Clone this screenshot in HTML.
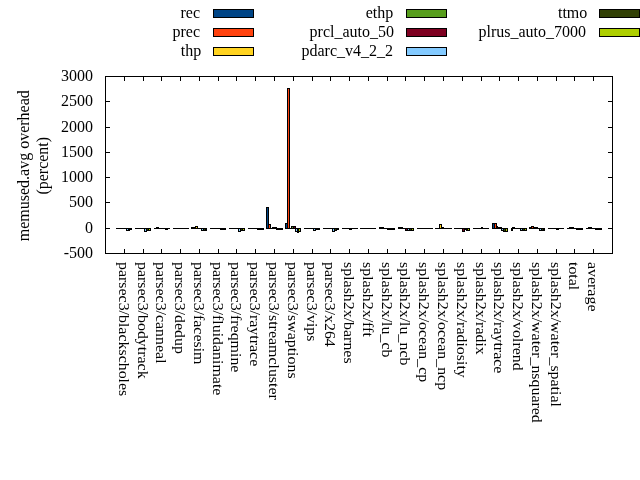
<!DOCTYPE html>
<html><head><meta charset="utf-8"><title>memused.avg overhead</title>
<style>html,body{margin:0;padding:0;background:#fff;overflow:hidden}svg{display:block}</style></head>
<body>
<svg width="640" height="480" viewBox="0 0 640 480" style="display:block">
<rect width="640" height="480" fill="#fff"/>
<g shape-rendering="crispEdges">
<rect x="116" y="228" width="3" height="1" fill="#000"/>
<rect x="118" y="228" width="3" height="1" fill="#000"/>
<rect x="120" y="228" width="3" height="1" fill="#000"/>
<rect x="122" y="228" width="3" height="1" fill="#000"/>
<rect x="124" y="228" width="3" height="1" fill="#000"/>
<rect x="126" y="228" width="3" height="3" fill="#000"/>
<rect x="127" y="229" width="1" height="1" fill="#83caff"/>
<rect x="128" y="228" width="2" height="3" fill="#000"/>
<rect x="129" y="228" width="3" height="2" fill="#000"/>
<rect x="135" y="228" width="3" height="1" fill="#000"/>
<rect x="137" y="228" width="3" height="1" fill="#000"/>
<rect x="139" y="228" width="3" height="1" fill="#000"/>
<rect x="141" y="228" width="3" height="1" fill="#000"/>
<rect x="143" y="228" width="2" height="1" fill="#000"/>
<rect x="144" y="228" width="3" height="4" fill="#000"/>
<rect x="145" y="229" width="1" height="2" fill="#83caff"/>
<rect x="146" y="228" width="3" height="3" fill="#000"/>
<rect x="147" y="229" width="1" height="1" fill="#314004"/>
<rect x="148" y="228" width="3" height="3" fill="#000"/>
<rect x="149" y="229" width="1" height="1" fill="#aecf00"/>
<rect x="154" y="228" width="3" height="1" fill="#000"/>
<rect x="156" y="227" width="3" height="2" fill="#000"/>
<rect x="158" y="228" width="2" height="1" fill="#000"/>
<rect x="159" y="228" width="3" height="1" fill="#000"/>
<rect x="161" y="228" width="3" height="1" fill="#000"/>
<rect x="163" y="228" width="3" height="1" fill="#000"/>
<rect x="165" y="228" width="3" height="2" fill="#000"/>
<rect x="167" y="228" width="3" height="1" fill="#000"/>
<rect x="173" y="228" width="2" height="1" fill="#000"/>
<rect x="174" y="228" width="3" height="1" fill="#000"/>
<rect x="176" y="228" width="3" height="1" fill="#000"/>
<rect x="178" y="228" width="3" height="1" fill="#000"/>
<rect x="180" y="228" width="3" height="1" fill="#000"/>
<rect x="182" y="228" width="3" height="1" fill="#000"/>
<rect x="184" y="228" width="3" height="1" fill="#000"/>
<rect x="186" y="228" width="3" height="1" fill="#000"/>
<rect x="191" y="227" width="3" height="2" fill="#000"/>
<rect x="193" y="227" width="3" height="2" fill="#000"/>
<rect x="195" y="226" width="3" height="3" fill="#000"/>
<rect x="196" y="227" width="1" height="1" fill="#ffd320"/>
<rect x="197" y="228" width="3" height="1" fill="#000"/>
<rect x="199" y="228" width="3" height="1" fill="#000"/>
<rect x="201" y="228" width="3" height="3" fill="#000"/>
<rect x="202" y="229" width="1" height="1" fill="#83caff"/>
<rect x="203" y="228" width="3" height="3" fill="#000"/>
<rect x="204" y="229" width="1" height="1" fill="#314004"/>
<rect x="205" y="228" width="2" height="3" fill="#000"/>
<rect x="210" y="228" width="3" height="1" fill="#000"/>
<rect x="212" y="228" width="3" height="1" fill="#000"/>
<rect x="214" y="228" width="3" height="1" fill="#000"/>
<rect x="216" y="228" width="3" height="1" fill="#000"/>
<rect x="218" y="228" width="3" height="1" fill="#000"/>
<rect x="220" y="228" width="2" height="2" fill="#000"/>
<rect x="221" y="228" width="3" height="2" fill="#000"/>
<rect x="223" y="228" width="3" height="2" fill="#000"/>
<rect x="229" y="228" width="3" height="1" fill="#000"/>
<rect x="231" y="228" width="3" height="1" fill="#000"/>
<rect x="233" y="228" width="3" height="1" fill="#000"/>
<rect x="235" y="228" width="2" height="1" fill="#000"/>
<rect x="236" y="228" width="3" height="1" fill="#000"/>
<rect x="238" y="228" width="3" height="4" fill="#000"/>
<rect x="239" y="229" width="1" height="2" fill="#83caff"/>
<rect x="240" y="228" width="3" height="3" fill="#000"/>
<rect x="241" y="229" width="1" height="1" fill="#314004"/>
<rect x="242" y="228" width="3" height="3" fill="#000"/>
<rect x="243" y="229" width="1" height="1" fill="#aecf00"/>
<rect x="248" y="228" width="3" height="1" fill="#000"/>
<rect x="250" y="228" width="2" height="1" fill="#000"/>
<rect x="251" y="228" width="3" height="1" fill="#000"/>
<rect x="253" y="228" width="3" height="1" fill="#000"/>
<rect x="255" y="228" width="3" height="1" fill="#000"/>
<rect x="257" y="228" width="3" height="2" fill="#000"/>
<rect x="259" y="228" width="3" height="2" fill="#000"/>
<rect x="261" y="228" width="3" height="2" fill="#000"/>
<rect x="266" y="207" width="3" height="22" fill="#000"/>
<rect x="267" y="208" width="1" height="20" fill="#004586"/>
<rect x="268" y="224" width="3" height="5" fill="#000"/>
<rect x="269" y="225" width="1" height="3" fill="#ff420e"/>
<rect x="270" y="228" width="3" height="1" fill="#000"/>
<rect x="272" y="227" width="3" height="2" fill="#000"/>
<rect x="274" y="227" width="3" height="2" fill="#000"/>
<rect x="276" y="228" width="3" height="2" fill="#000"/>
<rect x="278" y="228" width="3" height="2" fill="#000"/>
<rect x="280" y="228" width="3" height="2" fill="#000"/>
<rect x="285" y="223" width="3" height="6" fill="#000"/>
<rect x="286" y="224" width="1" height="4" fill="#004586"/>
<rect x="287" y="88" width="3" height="141" fill="#000"/>
<rect x="288" y="89" width="1" height="139" fill="#ff420e"/>
<rect x="289" y="228" width="3" height="1" fill="#000"/>
<rect x="291" y="226" width="3" height="3" fill="#000"/>
<rect x="292" y="227" width="1" height="1" fill="#579d1c"/>
<rect x="293" y="226" width="3" height="3" fill="#000"/>
<rect x="294" y="227" width="1" height="1" fill="#7e0021"/>
<rect x="295" y="228" width="3" height="4" fill="#000"/>
<rect x="296" y="229" width="1" height="2" fill="#83caff"/>
<rect x="297" y="228" width="2" height="5" fill="#000"/>
<rect x="298" y="228" width="3" height="4" fill="#000"/>
<rect x="299" y="229" width="1" height="2" fill="#aecf00"/>
<rect x="304" y="228" width="3" height="1" fill="#000"/>
<rect x="306" y="228" width="3" height="1" fill="#000"/>
<rect x="308" y="228" width="3" height="1" fill="#000"/>
<rect x="310" y="228" width="3" height="1" fill="#000"/>
<rect x="312" y="228" width="2" height="1" fill="#000"/>
<rect x="313" y="228" width="3" height="3" fill="#000"/>
<rect x="314" y="229" width="1" height="1" fill="#83caff"/>
<rect x="315" y="228" width="3" height="2" fill="#000"/>
<rect x="317" y="228" width="3" height="2" fill="#000"/>
<rect x="323" y="228" width="3" height="1" fill="#000"/>
<rect x="325" y="228" width="3" height="1" fill="#000"/>
<rect x="327" y="228" width="2" height="1" fill="#000"/>
<rect x="328" y="228" width="3" height="1" fill="#000"/>
<rect x="330" y="228" width="3" height="1" fill="#000"/>
<rect x="332" y="228" width="3" height="4" fill="#000"/>
<rect x="333" y="229" width="1" height="2" fill="#83caff"/>
<rect x="334" y="228" width="3" height="3" fill="#000"/>
<rect x="335" y="229" width="1" height="1" fill="#314004"/>
<rect x="336" y="228" width="3" height="2" fill="#000"/>
<rect x="342" y="228" width="2" height="1" fill="#000"/>
<rect x="343" y="228" width="3" height="1" fill="#000"/>
<rect x="345" y="228" width="3" height="1" fill="#000"/>
<rect x="347" y="228" width="3" height="1" fill="#000"/>
<rect x="349" y="228" width="3" height="2" fill="#000"/>
<rect x="351" y="228" width="3" height="1" fill="#000"/>
<rect x="353" y="228" width="3" height="1" fill="#000"/>
<rect x="355" y="228" width="3" height="1" fill="#000"/>
<rect x="360" y="228" width="3" height="1" fill="#000"/>
<rect x="362" y="228" width="3" height="1" fill="#000"/>
<rect x="364" y="228" width="3" height="1" fill="#000"/>
<rect x="366" y="228" width="3" height="1" fill="#000"/>
<rect x="368" y="228" width="3" height="1" fill="#000"/>
<rect x="370" y="228" width="3" height="1" fill="#000"/>
<rect x="372" y="228" width="3" height="1" fill="#000"/>
<rect x="374" y="228" width="2" height="1" fill="#000"/>
<rect x="379" y="227" width="3" height="2" fill="#000"/>
<rect x="381" y="227" width="3" height="2" fill="#000"/>
<rect x="383" y="228" width="3" height="1" fill="#000"/>
<rect x="385" y="228" width="3" height="1" fill="#000"/>
<rect x="387" y="228" width="3" height="2" fill="#000"/>
<rect x="389" y="228" width="2" height="2" fill="#000"/>
<rect x="390" y="228" width="3" height="2" fill="#000"/>
<rect x="392" y="228" width="3" height="2" fill="#000"/>
<rect x="398" y="227" width="3" height="2" fill="#000"/>
<rect x="400" y="227" width="3" height="2" fill="#000"/>
<rect x="402" y="228" width="3" height="1" fill="#000"/>
<rect x="404" y="228" width="2" height="1" fill="#000"/>
<rect x="405" y="228" width="3" height="3" fill="#000"/>
<rect x="406" y="229" width="1" height="1" fill="#7e0021"/>
<rect x="407" y="228" width="3" height="3" fill="#000"/>
<rect x="408" y="229" width="1" height="1" fill="#83caff"/>
<rect x="409" y="228" width="3" height="3" fill="#000"/>
<rect x="410" y="229" width="1" height="1" fill="#314004"/>
<rect x="411" y="228" width="3" height="3" fill="#000"/>
<rect x="412" y="229" width="1" height="1" fill="#aecf00"/>
<rect x="417" y="228" width="3" height="1" fill="#000"/>
<rect x="419" y="228" width="2" height="1" fill="#000"/>
<rect x="420" y="228" width="3" height="1" fill="#000"/>
<rect x="422" y="228" width="3" height="1" fill="#000"/>
<rect x="424" y="228" width="3" height="1" fill="#000"/>
<rect x="426" y="228" width="3" height="1" fill="#000"/>
<rect x="428" y="228" width="3" height="1" fill="#000"/>
<rect x="430" y="228" width="3" height="1" fill="#000"/>
<rect x="435" y="228" width="3" height="1" fill="#000"/>
<rect x="437" y="228" width="3" height="1" fill="#000"/>
<rect x="439" y="224" width="3" height="5" fill="#000"/>
<rect x="440" y="225" width="1" height="3" fill="#ffd320"/>
<rect x="441" y="227" width="3" height="2" fill="#000"/>
<rect x="443" y="228" width="3" height="1" fill="#000"/>
<rect x="445" y="228" width="3" height="1" fill="#000"/>
<rect x="447" y="228" width="3" height="1" fill="#000"/>
<rect x="449" y="228" width="3" height="1" fill="#000"/>
<rect x="454" y="228" width="3" height="1" fill="#000"/>
<rect x="456" y="228" width="3" height="1" fill="#000"/>
<rect x="458" y="228" width="3" height="1" fill="#000"/>
<rect x="460" y="228" width="3" height="1" fill="#000"/>
<rect x="462" y="228" width="3" height="4" fill="#000"/>
<rect x="463" y="229" width="1" height="2" fill="#7e0021"/>
<rect x="464" y="228" width="3" height="2" fill="#000"/>
<rect x="466" y="228" width="2" height="3" fill="#000"/>
<rect x="467" y="228" width="3" height="3" fill="#000"/>
<rect x="468" y="229" width="1" height="1" fill="#aecf00"/>
<rect x="473" y="228" width="3" height="1" fill="#000"/>
<rect x="475" y="228" width="3" height="1" fill="#000"/>
<rect x="477" y="228" width="3" height="1" fill="#000"/>
<rect x="479" y="228" width="3" height="1" fill="#000"/>
<rect x="481" y="227" width="2" height="2" fill="#000"/>
<rect x="482" y="228" width="3" height="1" fill="#000"/>
<rect x="484" y="228" width="3" height="1" fill="#000"/>
<rect x="486" y="228" width="3" height="1" fill="#000"/>
<rect x="492" y="223" width="3" height="6" fill="#000"/>
<rect x="493" y="224" width="1" height="4" fill="#004586"/>
<rect x="494" y="223" width="3" height="6" fill="#000"/>
<rect x="495" y="224" width="1" height="4" fill="#ff420e"/>
<rect x="496" y="226" width="2" height="3" fill="#000"/>
<rect x="497" y="227" width="3" height="2" fill="#000"/>
<rect x="499" y="227" width="3" height="2" fill="#000"/>
<rect x="501" y="228" width="3" height="3" fill="#000"/>
<rect x="502" y="229" width="1" height="1" fill="#83caff"/>
<rect x="503" y="228" width="3" height="4" fill="#000"/>
<rect x="504" y="229" width="1" height="2" fill="#314004"/>
<rect x="505" y="228" width="3" height="4" fill="#000"/>
<rect x="506" y="229" width="1" height="2" fill="#aecf00"/>
<rect x="511" y="228" width="2" height="3" fill="#000"/>
<rect x="512" y="227" width="3" height="2" fill="#000"/>
<rect x="514" y="228" width="3" height="1" fill="#000"/>
<rect x="516" y="228" width="3" height="1" fill="#000"/>
<rect x="518" y="228" width="3" height="1" fill="#000"/>
<rect x="520" y="228" width="3" height="3" fill="#000"/>
<rect x="521" y="229" width="1" height="1" fill="#83caff"/>
<rect x="522" y="228" width="3" height="3" fill="#000"/>
<rect x="523" y="229" width="1" height="1" fill="#314004"/>
<rect x="524" y="228" width="3" height="3" fill="#000"/>
<rect x="525" y="229" width="1" height="1" fill="#aecf00"/>
<rect x="529" y="227" width="3" height="2" fill="#000"/>
<rect x="531" y="226" width="3" height="3" fill="#000"/>
<rect x="532" y="227" width="1" height="1" fill="#ff420e"/>
<rect x="533" y="227" width="3" height="2" fill="#000"/>
<rect x="535" y="227" width="3" height="2" fill="#000"/>
<rect x="537" y="228" width="3" height="1" fill="#000"/>
<rect x="539" y="228" width="3" height="3" fill="#000"/>
<rect x="540" y="229" width="1" height="1" fill="#83caff"/>
<rect x="541" y="228" width="3" height="3" fill="#000"/>
<rect x="542" y="229" width="1" height="1" fill="#314004"/>
<rect x="543" y="228" width="2" height="3" fill="#000"/>
<rect x="548" y="228" width="3" height="1" fill="#000"/>
<rect x="550" y="228" width="3" height="1" fill="#000"/>
<rect x="552" y="228" width="3" height="1" fill="#000"/>
<rect x="554" y="228" width="3" height="1" fill="#000"/>
<rect x="556" y="228" width="3" height="2" fill="#000"/>
<rect x="558" y="228" width="2" height="1" fill="#000"/>
<rect x="559" y="228" width="3" height="1" fill="#000"/>
<rect x="561" y="228" width="3" height="1" fill="#000"/>
<rect x="567" y="228" width="3" height="1" fill="#000"/>
<rect x="569" y="227" width="3" height="2" fill="#000"/>
<rect x="571" y="227" width="3" height="2" fill="#000"/>
<rect x="573" y="228" width="2" height="1" fill="#000"/>
<rect x="574" y="228" width="3" height="1" fill="#000"/>
<rect x="576" y="228" width="3" height="2" fill="#000"/>
<rect x="578" y="228" width="3" height="2" fill="#000"/>
<rect x="580" y="228" width="3" height="2" fill="#000"/>
<rect x="586" y="228" width="3" height="1" fill="#000"/>
<rect x="588" y="227" width="2" height="2" fill="#000"/>
<rect x="589" y="227" width="3" height="2" fill="#000"/>
<rect x="591" y="228" width="3" height="1" fill="#000"/>
<rect x="593" y="228" width="3" height="1" fill="#000"/>
<rect x="595" y="228" width="3" height="2" fill="#000"/>
<rect x="597" y="228" width="3" height="2" fill="#000"/>
<rect x="599" y="228" width="3" height="2" fill="#000"/>
<rect x="105" y="76" width="508" height="1" fill="#000"/>
<rect x="105" y="253" width="508" height="1" fill="#000"/>
<rect x="105" y="76" width="1" height="178" fill="#000"/>
<rect x="612" y="76" width="1" height="178" fill="#000"/>
<rect x="124" y="76" width="1" height="5" fill="#000"/>
<rect x="124" y="249" width="1" height="5" fill="#000"/>
<rect x="143" y="76" width="1" height="5" fill="#000"/>
<rect x="143" y="249" width="1" height="5" fill="#000"/>
<rect x="161" y="76" width="1" height="5" fill="#000"/>
<rect x="161" y="249" width="1" height="5" fill="#000"/>
<rect x="180" y="76" width="1" height="5" fill="#000"/>
<rect x="180" y="249" width="1" height="5" fill="#000"/>
<rect x="199" y="76" width="1" height="5" fill="#000"/>
<rect x="199" y="249" width="1" height="5" fill="#000"/>
<rect x="218" y="76" width="1" height="5" fill="#000"/>
<rect x="218" y="249" width="1" height="5" fill="#000"/>
<rect x="236" y="76" width="1" height="5" fill="#000"/>
<rect x="236" y="249" width="1" height="5" fill="#000"/>
<rect x="255" y="76" width="1" height="5" fill="#000"/>
<rect x="255" y="249" width="1" height="5" fill="#000"/>
<rect x="274" y="76" width="1" height="5" fill="#000"/>
<rect x="274" y="249" width="1" height="5" fill="#000"/>
<rect x="293" y="76" width="1" height="5" fill="#000"/>
<rect x="293" y="249" width="1" height="5" fill="#000"/>
<rect x="312" y="76" width="1" height="5" fill="#000"/>
<rect x="312" y="249" width="1" height="5" fill="#000"/>
<rect x="330" y="76" width="1" height="5" fill="#000"/>
<rect x="330" y="249" width="1" height="5" fill="#000"/>
<rect x="349" y="76" width="1" height="5" fill="#000"/>
<rect x="349" y="249" width="1" height="5" fill="#000"/>
<rect x="368" y="76" width="1" height="5" fill="#000"/>
<rect x="368" y="249" width="1" height="5" fill="#000"/>
<rect x="387" y="76" width="1" height="5" fill="#000"/>
<rect x="387" y="249" width="1" height="5" fill="#000"/>
<rect x="405" y="76" width="1" height="5" fill="#000"/>
<rect x="405" y="249" width="1" height="5" fill="#000"/>
<rect x="424" y="76" width="1" height="5" fill="#000"/>
<rect x="424" y="249" width="1" height="5" fill="#000"/>
<rect x="443" y="76" width="1" height="5" fill="#000"/>
<rect x="443" y="249" width="1" height="5" fill="#000"/>
<rect x="462" y="76" width="1" height="5" fill="#000"/>
<rect x="462" y="249" width="1" height="5" fill="#000"/>
<rect x="481" y="76" width="1" height="5" fill="#000"/>
<rect x="481" y="249" width="1" height="5" fill="#000"/>
<rect x="499" y="76" width="1" height="5" fill="#000"/>
<rect x="499" y="249" width="1" height="5" fill="#000"/>
<rect x="518" y="76" width="1" height="5" fill="#000"/>
<rect x="518" y="249" width="1" height="5" fill="#000"/>
<rect x="537" y="76" width="1" height="5" fill="#000"/>
<rect x="537" y="249" width="1" height="5" fill="#000"/>
<rect x="556" y="76" width="1" height="5" fill="#000"/>
<rect x="556" y="249" width="1" height="5" fill="#000"/>
<rect x="574" y="76" width="1" height="5" fill="#000"/>
<rect x="574" y="249" width="1" height="5" fill="#000"/>
<rect x="593" y="76" width="1" height="5" fill="#000"/>
<rect x="593" y="249" width="1" height="5" fill="#000"/>
<rect x="105" y="253" width="5" height="1" fill="#000"/>
<rect x="608" y="253" width="5" height="1" fill="#000"/>
<rect x="105" y="228" width="5" height="1" fill="#000"/>
<rect x="608" y="228" width="5" height="1" fill="#000"/>
<rect x="105" y="202" width="5" height="1" fill="#000"/>
<rect x="608" y="202" width="5" height="1" fill="#000"/>
<rect x="105" y="177" width="5" height="1" fill="#000"/>
<rect x="608" y="177" width="5" height="1" fill="#000"/>
<rect x="105" y="152" width="5" height="1" fill="#000"/>
<rect x="608" y="152" width="5" height="1" fill="#000"/>
<rect x="105" y="127" width="5" height="1" fill="#000"/>
<rect x="608" y="127" width="5" height="1" fill="#000"/>
<rect x="105" y="101" width="5" height="1" fill="#000"/>
<rect x="608" y="101" width="5" height="1" fill="#000"/>
<rect x="105" y="76" width="5" height="1" fill="#000"/>
<rect x="608" y="76" width="5" height="1" fill="#000"/>
<rect x="213" y="9" width="41" height="9" fill="#000"/>
<rect x="214" y="10" width="39" height="7" fill="#004586"/>
<rect x="213" y="28" width="41" height="9" fill="#000"/>
<rect x="214" y="29" width="39" height="7" fill="#ff420e"/>
<rect x="213" y="47" width="41" height="9" fill="#000"/>
<rect x="214" y="48" width="39" height="7" fill="#ffd320"/>
<rect x="406" y="9" width="41" height="9" fill="#000"/>
<rect x="407" y="10" width="39" height="7" fill="#579d1c"/>
<rect x="406" y="28" width="41" height="9" fill="#000"/>
<rect x="407" y="29" width="39" height="7" fill="#7e0021"/>
<rect x="406" y="47" width="41" height="9" fill="#000"/>
<rect x="407" y="48" width="39" height="7" fill="#83caff"/>
<rect x="599" y="9" width="41" height="9" fill="#000"/>
<rect x="600" y="10" width="39" height="7" fill="#314004"/>
<rect x="599" y="28" width="41" height="9" fill="#000"/>
<rect x="600" y="29" width="39" height="7" fill="#aecf00"/>
</g>
<g font-family="'Liberation Serif', serif" font-size="16" fill="#000">
<text transform="translate(200,17.7) scale(1,1.0)" text-anchor="end">rec</text>
<text transform="translate(200,36.7) scale(1,1.0)" text-anchor="end">prec</text>
<text transform="translate(201.2,55.7) scale(1,1.0)" text-anchor="end">thp</text>
<text transform="translate(393.3,17.7) scale(1,1.0)" text-anchor="end">ethp</text>
<text transform="translate(394.0,36.7) scale(1,1.0)" text-anchor="end">prcl_auto_50</text>
<text transform="translate(393,55.7) scale(1,1.0)" text-anchor="end">pdarc_v4_2_2</text>
<text transform="translate(587.3,17.7) scale(1,1.0)" text-anchor="end">ttmo</text>
<text transform="translate(586,36.7) scale(1,1.0)" text-anchor="end">plrus_auto_7000</text>
<text transform="translate(93,257.70) scale(1,1.0)" text-anchor="end">-500</text>
<text transform="translate(93,232.70) scale(1,1.0)" text-anchor="end">0</text>
<text transform="translate(93,206.70) scale(1,1.0)" text-anchor="end">500</text>
<text transform="translate(93,181.70) scale(1,1.0)" text-anchor="end">1000</text>
<text transform="translate(93,156.70) scale(1,1.0)" text-anchor="end">1500</text>
<text transform="translate(93,131.70) scale(1,1.0)" text-anchor="end">2000</text>
<text transform="translate(93,105.70) scale(1,1.0)" text-anchor="end">2500</text>
<text transform="translate(93,80.70) scale(1,1.0)" text-anchor="end">3000</text>
<text transform="translate(119.30,262) rotate(90) scale(1,0.97)" font-size="15.92">parsec3/blackscholes</text>
<text transform="translate(138.30,262) rotate(90) scale(1,0.97)" font-size="15.92">parsec3/bodytrack</text>
<text transform="translate(156.30,262) rotate(90) scale(1,0.97)" font-size="15.92">parsec3/canneal</text>
<text transform="translate(175.30,262) rotate(90) scale(1,0.97)" font-size="15.92">parsec3/dedup</text>
<text transform="translate(194.30,262) rotate(90) scale(1,0.97)" font-size="15.92">parsec3/facesim</text>
<text transform="translate(213.30,262) rotate(90) scale(1,0.97)" font-size="15.92">parsec3/fluidanimate</text>
<text transform="translate(231.30,262) rotate(90) scale(1,0.97)" font-size="15.92">parsec3/freqmine</text>
<text transform="translate(250.30,262) rotate(90) scale(1,0.97)" font-size="15.92">parsec3/raytrace</text>
<text transform="translate(269.30,262) rotate(90) scale(1,0.97)" font-size="15.92">parsec3/streamcluster</text>
<text transform="translate(288.30,262) rotate(90) scale(1,0.97)" font-size="15.92">parsec3/swaptions</text>
<text transform="translate(307.30,262) rotate(90) scale(1,0.97)" font-size="15.92">parsec3/vips</text>
<text transform="translate(325.30,262) rotate(90) scale(1,0.97)" font-size="15.92">parsec3/x264</text>
<text transform="translate(344.30,262) rotate(90) scale(1,0.97)" font-size="15.92">splash2x/barnes</text>
<text transform="translate(363.30,262) rotate(90) scale(1,0.97)" font-size="15.92">splash2x/fft</text>
<text transform="translate(382.30,262) rotate(90) scale(1,0.97)" font-size="15.92">splash2x/lu_cb</text>
<text transform="translate(400.30,262) rotate(90) scale(1,0.97)" font-size="15.92">splash2x/lu_ncb</text>
<text transform="translate(419.30,262) rotate(90) scale(1,0.97)" font-size="15.92">splash2x/ocean_cp</text>
<text transform="translate(438.30,262) rotate(90) scale(1,0.97)" font-size="15.92">splash2x/ocean_ncp</text>
<text transform="translate(457.30,262) rotate(90) scale(1,0.97)" font-size="15.92">splash2x/radiosity</text>
<text transform="translate(476.30,262) rotate(90) scale(1,0.97)" font-size="15.92">splash2x/radix</text>
<text transform="translate(494.30,262) rotate(90) scale(1,0.97)" font-size="15.92">splash2x/raytrace</text>
<text transform="translate(513.30,262) rotate(90) scale(1,0.97)" font-size="15.92">splash2x/volrend</text>
<text transform="translate(532.30,262) rotate(90) scale(1,0.97)" font-size="15.92">splash2x/water_nsquared</text>
<text transform="translate(551.30,262) rotate(90) scale(1,0.97)" font-size="15.92">splash2x/water_spatial</text>
<text transform="translate(569.30,262) rotate(90) scale(1,0.97)" font-size="15.92">total</text>
<text transform="translate(588.30,262) rotate(90) scale(1,0.97)" font-size="15.92">average</text>
<text transform="translate(28.9,165.75) rotate(-90)" text-anchor="middle">memused.avg overhead</text>
<text transform="translate(47.8,165.75) rotate(-90)" text-anchor="middle">(percent)</text>
</g></svg>
</body></html>
